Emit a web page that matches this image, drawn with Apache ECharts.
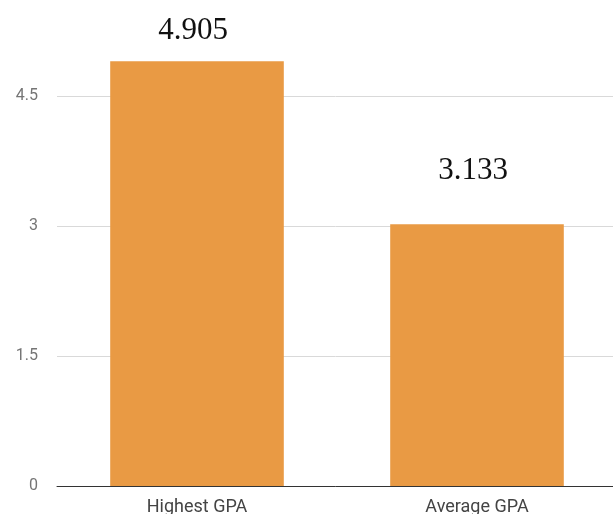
<!DOCTYPE html>
<html>
<head>
<meta charset="utf-8">
<script src="https://cdn.jsdelivr.net/npm/echarts@6/dist/echarts.min.js"></script>
<style>
  html, body { margin: 0; padding: 0; background: #fff; }
  #chart { width: 613px; height: 514px; }
</style>
</head>
<body>
<div id="chart"></div>
<script>
// data
const categories = ["Highest GPA", "Average GPA"];
const gpaValues = [4.9, 3.02];
const valueLabels = ["4.905", "3.133"];
// label gap above each bar (px)
const labelGaps = [15, 38];

const chart = echarts.init(document.getElementById("chart"));

chart.setOption({
  animation: false,
  grid: {
    left: 57,
    right: -4,
    top: -34,
    bottom: 28,
    outerBoundsMode: "none",
    containLabel: false,
  },
  xAxis: {
    type: "category",
    data: categories,
    axisLine: { show: true, lineStyle: { color: "#333", width: 1 } },
    axisTick: { show: false },
    axisLabel: {
      margin: 12,
      color: "#444",
      fontSize: 18,
      fontFamily: "Roboto",
    },
  },
  yAxis: {
    type: "value",
    min: 0,
    max: 6,
    interval: 1.5,
    axisLine: { show: false },
    axisTick: { show: false },
    axisLabel: {
      margin: 19,
      color: "#757575",
      fontSize: 16,
      fontFamily: "Roboto",
    },
    splitLine: { lineStyle: { color: "#d9d9d9", width: 1 } },
  },
  series: [
    {
      type: "bar",
      barWidth: "62%",
      itemStyle: { color: "#e99a44" },
      data: gpaValues.map((v, i) => ({
        value: v,
        label: {
          show: true,
          position: "top",
          distance: labelGaps[i],
          offset: [-4, 0],
          formatter: valueLabels[i],
          fontFamily: "Liberation Serif",
          fontSize: 31,
          color: "#111",
        },
      })),
    },
  ],
});
</script>
</body>
</html>
